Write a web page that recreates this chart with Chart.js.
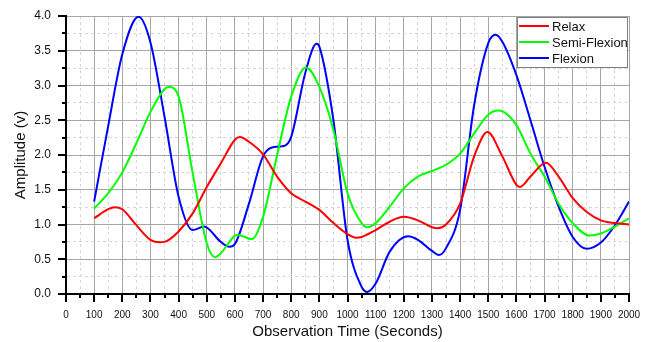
<!DOCTYPE html>
<html>
<head>
<meta charset="utf-8">
<script src="https://cdn.jsdelivr.net/npm/chart.js@4/dist/chart.umd.min.js"></script>
<style>
    body { margin: 0; background: #ffffff; }
    #wrap { width: 651px; height: 342px; }
</style>
</head>
<body>
<div id="wrap"><canvas id="amplitudeChart" width="651" height="342"></canvas></div>
<script>
// Messwerte (Zeit in Sekunden, Amplitude in Volt)
var relaxTime = [100, 150, 173, 200, 250, 300, 334, 350, 400, 450, 500, 550, 600, 618, 650, 700, 750, 800, 850, 900, 950, 1000, 1030, 1050, 1100, 1150, 1200, 1250, 1300, 1320, 1350, 1400, 1450, 1497, 1550, 1600, 1613, 1650, 1705, 1750, 1800, 1850, 1900, 1950, 2000];
var relaxAmp = [1.09, 1.22, 1.25, 1.22, 0.99, 0.78, 0.745, 0.75, 0.90, 1.16, 1.54, 1.88, 2.22, 2.26, 2.19, 2.01, 1.69, 1.45, 1.33, 1.21, 1.02, 0.86, 0.81, 0.82, 0.92, 1.04, 1.11, 1.06, 0.96, 0.945, 1.0, 1.30, 1.98, 2.33, 1.98, 1.57, 1.54, 1.69, 1.89, 1.69, 1.38, 1.18, 1.06, 1.02, 1.0];

var semiTime = [100, 150, 200, 250, 300, 350, 365, 400, 450, 500, 530, 550, 600, 610, 660, 700, 750, 800, 853, 900, 950, 1000, 1050, 1070, 1100, 1150, 1200, 1250, 1300, 1350, 1400, 1450, 1500, 1536, 1550, 1600, 1650, 1700, 1750, 1800, 1860, 1900, 1950, 2000];
var semiAmp = [1.23, 1.45, 1.75, 2.17, 2.62, 2.95, 2.98, 2.84, 1.74, 0.73, 0.53, 0.585, 0.84, 0.85, 0.79, 1.11, 2.0, 2.84, 3.26, 2.98, 2.36, 1.45, 1.02, 0.96, 1.02, 1.256, 1.52, 1.69, 1.77, 1.86, 2.02, 2.31, 2.58, 2.64, 2.63, 2.43, 2.02, 1.69, 1.30, 1.02, 0.84, 0.87, 0.97, 1.09];

var flexTime = [100, 150, 200, 258, 300, 350, 400, 450, 490, 550, 580, 600, 650, 700, 750, 775, 800, 850, 890, 900, 950, 1000, 1050, 1070, 1100, 1150, 1215, 1250, 1300, 1325, 1350, 1400, 1450, 1500, 1526, 1550, 1600, 1650, 1700, 1750, 1800, 1850, 1900, 1950, 2000];
var flexAmp = [1.33, 2.42, 3.45, 3.99, 3.62, 2.55, 1.40, 0.92, 0.97, 0.75, 0.68, 0.72, 1.30, 1.98, 2.12, 2.13, 2.26, 3.18, 3.60, 3.56, 2.50, 0.78, 0.105, 0.03, 0.15, 0.61, 0.83, 0.78, 0.62, 0.56, 0.66, 1.21, 2.72, 3.61, 3.73, 3.63, 3.15, 2.50, 1.83, 1.256, 0.82, 0.65, 0.74, 0.99, 1.33];

var seriesNames = ["Relax", "Semi-Flexion", "Flexion"];
var seriesColors = ["#ff0000", "#00ff00", "#0000ff"];

var xMin = 0, xMax = 2000, xStep = 50, xLabelStep = 100;
var yMin = 0, yMax = 4, yStep = 0.25, yLabelStep = 0.5;

var FONT = "'Liberation Sans', Arial, sans-serif";

function toPoints(xs, ys) {
    var pts = [];
    for (var i = 0; i < xs.length; i++) {
        pts.push({x: xs[i], y: ys[i]});
    }
    return pts;
}

function isMajor(value, step) {
    var r = Math.abs(value / step - Math.round(value / step));
    return r < 1e-6;
}

// Achsen-Ticks nach aussen, lange fuer beschriftete Werte
var tickMarks = {
    id: "tickMarks",
    afterDraw: function(chart) {
        var ctx = chart.ctx;
        var area = chart.chartArea;
        var xs = chart.scales.x;
        var ys = chart.scales.y;
        ctx.save();
        ctx.strokeStyle = "#000000";
        ctx.lineWidth = 2;
        ctx.beginPath();
        xs.ticks.forEach(function(t) {
            var px = Math.round(xs.getPixelForValue(t.value));
            var len = isMajor(t.value, xLabelStep) ? 8 : 4;
            ctx.moveTo(px, area.bottom);
            ctx.lineTo(px, area.bottom + len);
        });
        ys.ticks.forEach(function(t) {
            var py = Math.round(ys.getPixelForValue(t.value));
            var len = isMajor(t.value, yLabelStep) ? 8 : 4;
            ctx.moveTo(area.left, py);
            ctx.lineTo(area.left - len, py);
        });
        ctx.stroke();
        ctx.restore();
    }
};

// Legende oben rechts im Diagramm
var boxLegend = {
    id: "boxLegend",
    afterDraw: function(chart) {
        var ctx = chart.ctx;
        var area = chart.chartArea;
        var w = 110, h = 50;
        var left = area.right - w - 2;
        var top = area.top + 1;
        ctx.save();
        ctx.fillStyle = "#ffffff";
        ctx.fillRect(left, top, w, h);
        ctx.strokeStyle = "#808080";
        ctx.lineWidth = 1;
        ctx.strokeRect(left + 0.5, top + 0.5, w, h);
        ctx.font = "13px " + FONT;
        ctx.textBaseline = "middle";
        chart.data.datasets.forEach(function(ds, i) {
            var y = top + 9 + i * 16;
            ctx.strokeStyle = ds.borderColor;
            ctx.lineWidth = 2;
            ctx.beginPath();
            ctx.moveTo(left + 2, y);
            ctx.lineTo(left + 32, y);
            ctx.stroke();
            ctx.fillStyle = "#111111";
            ctx.fillText(ds.label, left + 35, y + 1);
        });
        ctx.restore();
    }
};

var datasets = [
    toPoints(relaxTime, relaxAmp),
    toPoints(semiTime, semiAmp),
    toPoints(flexTime, flexAmp)
].map(function(pts, i) {
    return {
        label: seriesNames[i],
        data: pts,
        borderColor: seriesColors[i],
        backgroundColor: seriesColors[i],
        borderWidth: 2,
        pointRadius: 0,
        fill: false,
        cubicInterpolationMode: "monotone"
    };
});

var ctx = document.getElementById("amplitudeChart").getContext("2d");
window.amplitudeChart = new Chart(ctx, {
    type: "line",
    data: {datasets: datasets},
    plugins: [tickMarks, boxLegend],
    options: {
        responsive: false,
        devicePixelRatio: 1,
        animation: false,
        layout: {padding: {top: 16, right: 22, left: 0, bottom: 0}},
        plugins: {legend: {display: false}, tooltip: {enabled: false}},
        scales: {
            x: {
                type: "linear",
                min: xMin,
                max: xMax,
                afterFit: function(scale) {
                    scale.height = 48;
                    scale.paddingLeft = 0;
                    scale.paddingRight = 0;
                },
                ticks: {
                    stepSize: xStep,
                    autoSkip: false,
                    maxRotation: 0,
                    padding: 15,
                    color: "#111111",
                    font: {family: FONT, size: 10},
                    callback: function(v) { return isMajor(v, xLabelStep) ? String(v) : ""; }
                },
                grid: {
                    drawTicks: false,
                    color: function(c) { return c.tick && isMajor(c.tick.value, xLabelStep) ? "#a6a6a6" : "#d6d6d6"; }
                },
                border: {
                    color: "#000000",
                    width: 2,
                    dash: function(c) { return c.tick && !isMajor(c.tick.value, xLabelStep) ? [3, 3] : []; }
                },
                title: {
                    display: true,
                    text: "Observation Time (Seconds)",
                    color: "#111111",
                    font: {family: FONT, size: 15},
                    padding: {top: 0, bottom: 1}
                }
            },
            y: {
                min: yMin,
                max: yMax,
                afterFit: function(scale) {
                    scale.width = 66;
                    scale.paddingTop = 0;
                    scale.paddingBottom = 0;
                },
                ticks: {
                    stepSize: yStep,
                    autoSkip: false,
                    padding: 15,
                    color: "#111111",
                    font: {family: FONT, size: 12},
                    callback: function(v) { return isMajor(v, yLabelStep) ? v.toFixed(1) : ""; }
                },
                grid: {
                    drawTicks: false,
                    color: function(c) { return c.tick && isMajor(c.tick.value, yLabelStep) ? "#a6a6a6" : "#d6d6d6"; }
                },
                border: {
                    color: "#000000",
                    width: 2,
                    dash: function(c) { return c.tick && !isMajor(c.tick.value, yLabelStep) ? [3, 3] : []; }
                },
                title: {
                    display: true,
                    text: "Amplitude (v)",
                    color: "#111111",
                    font: {family: FONT, size: 15},
                    padding: {top: 12, bottom: 0}
                }
            }
        }
    }
});
</script>
</body>
</html>
